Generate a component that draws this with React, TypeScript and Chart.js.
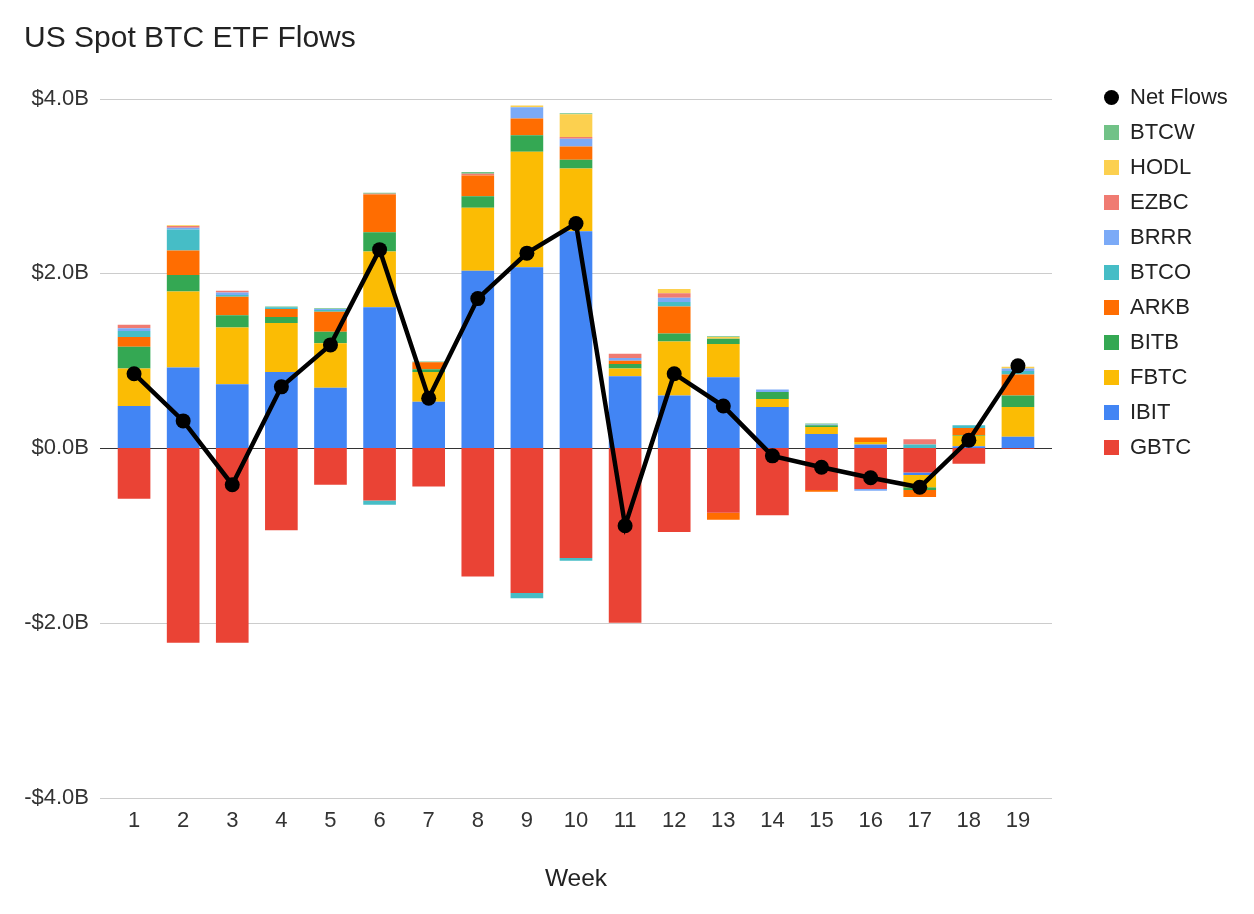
import React, { useEffect, useRef } from "react";
import { Chart, registerables } from "chart.js";

Chart.register(...registerables);

const weeks = ["1", "2", "3", "4", "5", "6", "7", "8", "9", "10", "11", "12", "13", "14", "15", "16", "17", "18", "19"];

const GBTC = [-0.58, -2.23, -2.23, -0.94, -0.42, -0.6, -0.44, -1.47, -1.66, -1.26, -2.0, -0.96, -0.74, -0.77, -0.48, -0.47, -0.28, -0.18, -0.01];
const IBIT = [0.48, 0.92, 0.73, 0.87, 0.69, 1.61, 0.53, 2.03, 2.07, 2.48, 0.82, 0.6, 0.81, 0.47, 0.16, 0.04, -0.03, 0.02, 0.13];
const FBTC = [0.43, 0.87, 0.65, 0.56, 0.51, 0.64, 0.34, 0.72, 1.32, 0.72, 0.09, 0.62, 0.38, 0.09, 0.08, 0.03, -0.14, 0.12, 0.34];
const BITB = [0.25, 0.19, 0.14, 0.07, 0.13, 0.22, 0.03, 0.13, 0.19, 0.1, 0.05, 0.09, 0.06, 0.08, 0.02, 0, -0.03, 0.01, 0.13];
const ARKB = [0.11, 0.28, 0.21, 0.09, 0.23, 0.43, 0.08, 0.24, 0.19, 0.15, 0.04, 0.31, -0.08, 0, -0.02, 0.05, -0.08, 0.08, 0.24];
const BTCO = [0.07, 0.24, 0.02, 0.02, 0.02, -0.05, 0, 0, -0.06, -0.03, 0, 0.05, 0, 0, 0, 0, 0.04, 0.03, 0.04];
const BRRR = [0.03, 0.02, 0.03, 0, 0.01, 0, 0, 0, 0.13, 0.09, 0.03, 0.05, 0, 0.03, 0.01, -0.02, 0, 0, 0.03];
const EZBC = [0.04, 0.02, 0.02, 0, 0, 0.01, 0, 0.02, 0, 0.02, 0.05, 0.05, 0, 0, 0, 0, 0.06, 0, 0];
const HODL = [0, 0.01, 0, 0, 0, 0, 0, 0, 0.02, 0.26, 0, 0.05, 0.02, 0, 0, 0, 0, 0, 0.02];
const BTCW = [0, 0, 0, 0.01, 0.01, 0.01, 0.01, 0.02, 0, 0.01, 0, 0, 0.01, 0, 0.01, 0, 0, 0, 0];
const NET_FLOWS = [0.85, 0.31, -0.42, 0.7, 1.18, 2.27, 0.57, 1.71, 2.23, 2.57, -0.89, 0.85, 0.48, -0.09, -0.22, -0.34, -0.45, 0.09, 0.94];

const Y_TICKS = [-4, -2, 0, 2, 4];

const SERIES = [
  { name: "GBTC", data: GBTC, color: "#EA4335" },
  { name: "IBIT", data: IBIT, color: "#4285F4" },
  { name: "FBTC", data: FBTC, color: "#FBBC04" },
  { name: "BITB", data: BITB, color: "#34A853" },
  { name: "ARKB", data: ARKB, color: "#FF6D01" },
  { name: "BTCO", data: BTCO, color: "#46BDC6" },
  { name: "BRRR", data: BRRR, color: "#7BAAF7" },
  { name: "EZBC", data: EZBC, color: "#F07B72" },
  { name: "HODL", data: HODL, color: "#FCD04F" },
  { name: "BTCW", data: BTCW, color: "#71C287" },
];

const FONT = "'Liberation Sans', Arial, sans-serif";

const fmt = (v: number) => (v < 0 ? "-" : "") + "$" + Math.abs(v).toFixed(1) + "B";

const gridPlugin = {
  id: "customGrid",
  beforeDatasetsDraw(chart: any) {
    const { ctx, scales } = chart;
    const y = scales.y;
    ctx.save();
    Y_TICKS.forEach((t) => {
      const py = Math.round(y.getPixelForValue(t)) + 0.5;
      ctx.beginPath();
      ctx.strokeStyle = t === 0 ? "#333333" : "#cccccc";
      ctx.lineWidth = 1;
      ctx.moveTo(100, py);
      ctx.lineTo(1052, py);
      ctx.stroke();
    });
    ctx.restore();
  },
};

export default function App() {
  const canvasRef = useRef<HTMLCanvasElement | null>(null);

  useEffect(() => {
    if (!canvasRef.current) return;
    const datasets: any[] = SERIES.map((s) => ({
      type: "bar",
      label: s.name,
      data: s.data,
      backgroundColor: s.color,
      borderWidth: 0,
      order: 1,
      barPercentage: 0.665,
      categoryPercentage: 1,
    }));
    datasets.push({
      type: "line",
      label: "Net Flows",
      data: NET_FLOWS,
      borderColor: "#000000",
      backgroundColor: "#000000",
      borderWidth: 4.5,
      pointRadius: 7.5,
      pointBackgroundColor: "#000000",
      pointBorderWidth: 0,
      stack: "net",
      order: 0,
      tension: 0,
    });

    const chart = new Chart(canvasRef.current, {
      type: "bar",
      data: { labels: weeks, datasets },
      plugins: [gridPlugin],
      options: {
        animation: false,
        responsive: true,
        maintainAspectRatio: false,
        layout: { padding: { top: 98.5, left: 0, right: 211.5, bottom: 0 } },
        plugins: {
          legend: { display: false },
          title: { display: false },
        },
        scales: {
          x: {
            stacked: true,
            grid: { display: false, drawTicks: false },
            border: { display: false },
            ticks: { color: "#333333", font: { family: FONT, size: 22 }, padding: 10 },
            title: {
              display: true,
              text: "Week",
              color: "#222222",
              font: { family: FONT, size: 24.5 },
              padding: { top: 0, bottom: 20 },
            },
            afterFit: (scale: any) => {
              scale.height = 116.5;
            },
          },
          y: {
            stacked: true,
            min: -4,
            max: 4,
            grid: { display: false, drawTicks: false },
            border: { display: false },
            ticks: {
              stepSize: 2,
              color: "#333333",
              font: { family: FONT, size: 22 },
              padding: 20.5,
              callback: (v: any) => fmt(Number(v)),
            },
            afterFit: (scale: any) => {
              scale.width = 109.5;
            },
          },
        },
      },
    });
    return () => chart.destroy();
  }, []);

  const legendItems = [
    { name: "Net Flows", color: "#000000", circle: true },
    ...SERIES.slice().reverse().map((s) => ({ name: s.name, color: s.color, circle: false })),
  ];

  return (
    <div style={{ position: "absolute", left: 0, top: 0, width: 1254, height: 914, background: "#ffffff", fontFamily: FONT }}>
      <canvas ref={canvasRef} style={{ position: "absolute", left: 0, top: 0, width: 1254, height: 914 }} />
      <div
        style={{
          position: "absolute",
          left: 24,
          top: 21.5,
          fontSize: 30,
          lineHeight: "30px",
          color: "#222222",
          whiteSpace: "nowrap",
        }}
      >
        US Spot BTC ETF Flows
      </div>
      {legendItems.map((it, i) => {
        const cy = 97 + i * 35;
        return (
          <div key={it.name} style={{ position: "absolute", left: 1104, top: cy - 13, height: 26, display: "flex", alignItems: "center" }}>
            <span
              style={{
                display: "inline-block",
                width: 15,
                height: 15,
                background: it.color,
                borderRadius: it.circle ? "50%" : 0,
              }}
            />
            <span style={{ marginLeft: 11, fontSize: 22, lineHeight: "26px", color: "#222222", whiteSpace: "nowrap" }}>{it.name}</span>
          </div>
        );
      })}
    </div>
  );
}
